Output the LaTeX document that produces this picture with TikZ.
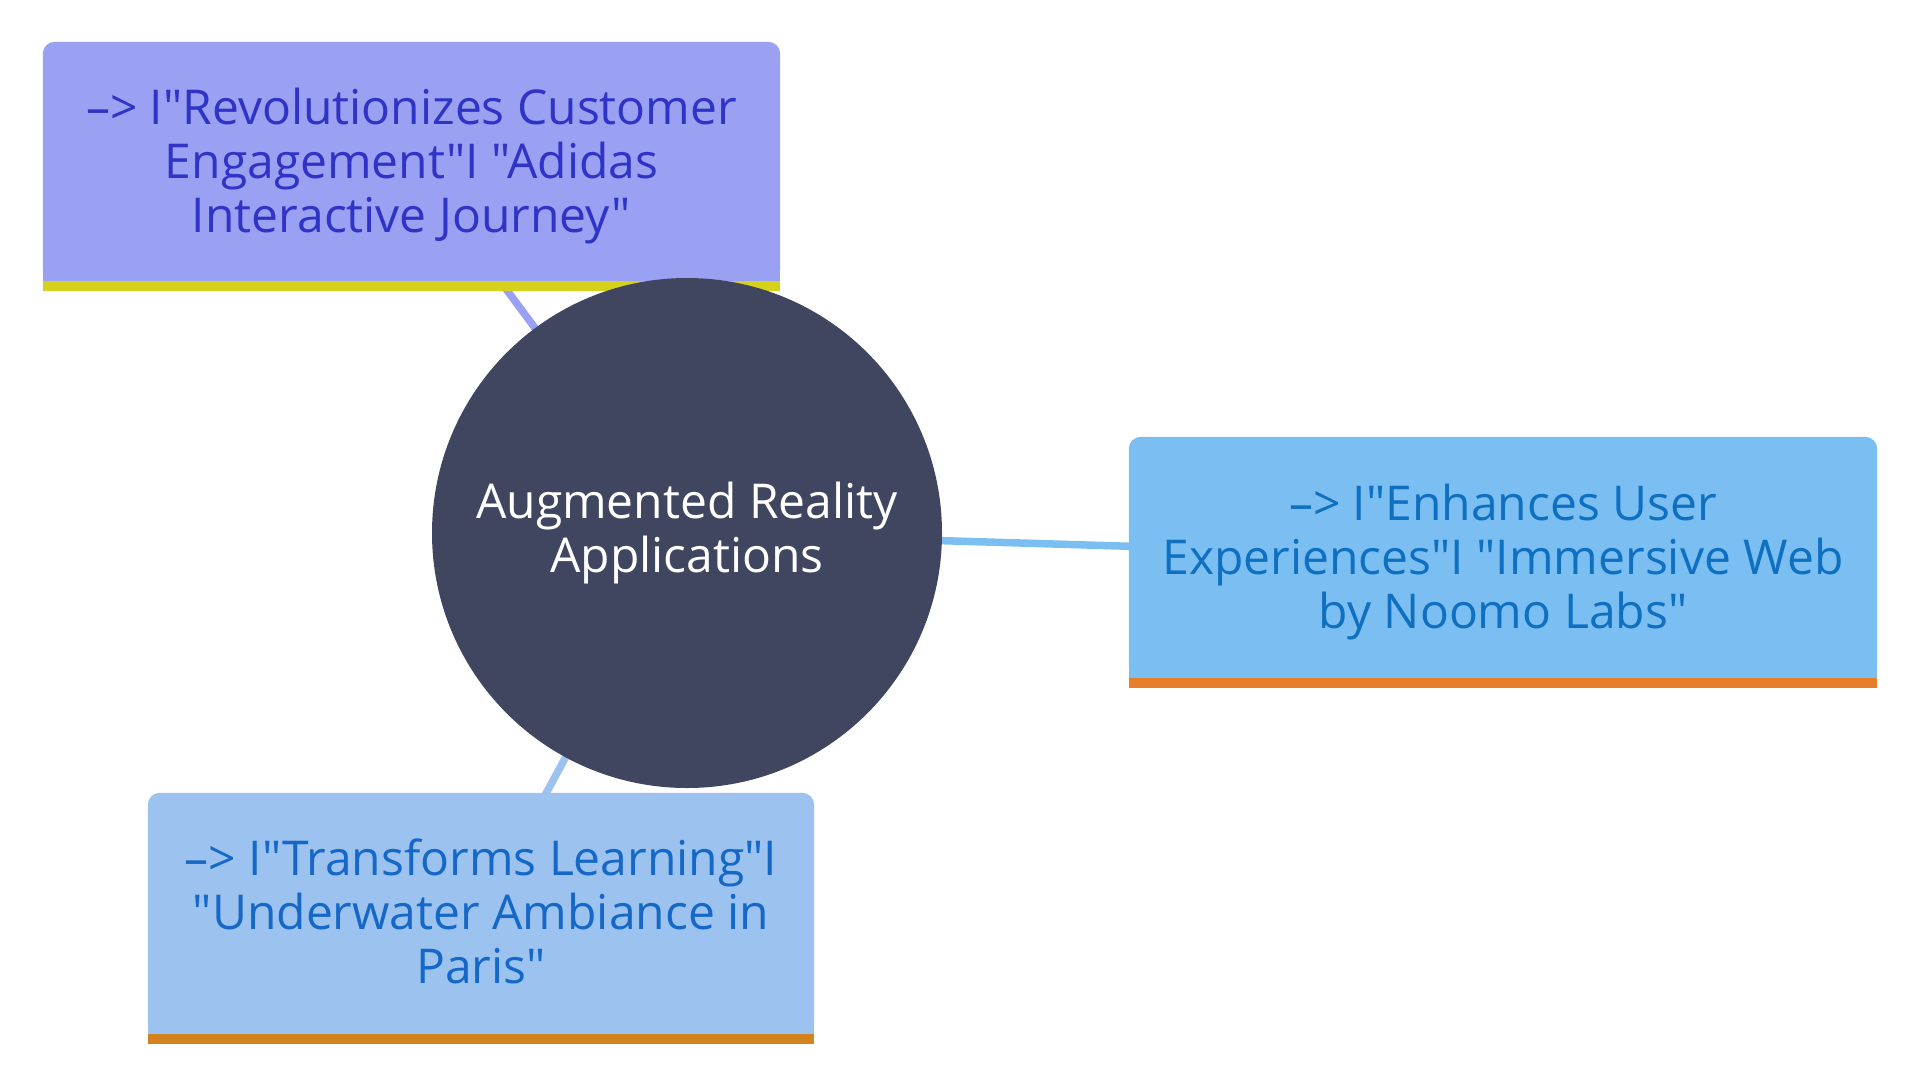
\documentclass[tikz,border=0pt]{standalone}
\usepackage{fontspec}
\setmainfont{Open Sans}[Ligatures=TeXOff]
\usetikzlibrary{calc,backgrounds}
\definecolor{lavfill}{HTML}{9AA0F2}
\definecolor{lavtext}{HTML}{2F33C6}
\definecolor{yelbar}{HTML}{D6D21C}
\definecolor{bluefill}{HTML}{7BBFF2}
\definecolor{bluetext}{HTML}{0F6FC0}
\definecolor{orbar}{HTML}{E87E2A}
\definecolor{pblfill}{HTML}{9CC3EF}
\definecolor{pbltext}{HTML}{1568C8}
\definecolor{orbarb}{HTML}{D4821E}
\definecolor{hub}{HTML}{414660}
\begin{document}
\begin{tikzpicture}[x=1pt,y=-1pt,
  txt/.style={font=\fontsize{48}{54}\selectfont, align=center, inner sep=0pt},
  boxlbl/.style={txt, yshift=-5pt},
  hubnode/.style={circle, fill=hub, text=white, minimum size=510pt, txt},
  edge/.style={line width=7.5pt}]
\useasboundingbox (0,0) rectangle (1920,1080);
\node[hubnode] (c) at (687,533) {Augmented Reality\\Applications};
\node[inner sep=0pt, minimum width=737pt, minimum height=239pt,
  label={[boxlbl, text=lavtext]center:{–> I"Revolutionizes Customer\\Engagement"I "Adidas\\Interactive Journey"}}] (tl) at (411.5,161.5) {};
\node[inner sep=0pt, minimum width=748pt, minimum height=241pt,
  label={[boxlbl, text=bluetext]center:{–> I"Enhances User\\Experiences"I "Immersive Web\\by Noomo Labs"}}] (rt) at (1503,557.5) {};
\node[inner sep=0pt, minimum width=666pt, minimum height=241pt,
  label={[boxlbl, yshift=7pt, text=pbltext]center:{–> I"Transforms Learning"I\\"Underwater Ambiance in\\Paris"}}] (bt) at (481,913.5) {};
\begin{scope}[on background layer]
  \draw[edge, lavfill] (c.center) -- (tl.center);
  \draw[edge, bluefill] (c.center) -- (rt.center);
  \draw[edge, pblfill] (c.center) -- (bt.center);
  \fill[lavfill, rounded corners=12pt] (tl.south west) rectangle (tl.north east);
  \fill[lavfill] (tl.west) rectangle (tl.south east);
  \fill[yelbar] (tl.south west) rectangle ($(tl.south east)+(0,10)$);
  \fill[bluefill, rounded corners=12pt] (rt.south west) rectangle (rt.north east);
  \fill[bluefill] (rt.west) rectangle (rt.south east);
  \fill[orbar] (rt.south west) rectangle ($(rt.south east)+(0,10)$);
  \fill[pblfill, rounded corners=12pt] (bt.south west) rectangle (bt.north east);
  \fill[pblfill] (bt.west) rectangle (bt.south east);
  \fill[orbarb] (bt.south west) rectangle ($(bt.south east)+(0,10)$);
\end{scope}
\end{tikzpicture}
\end{document}
